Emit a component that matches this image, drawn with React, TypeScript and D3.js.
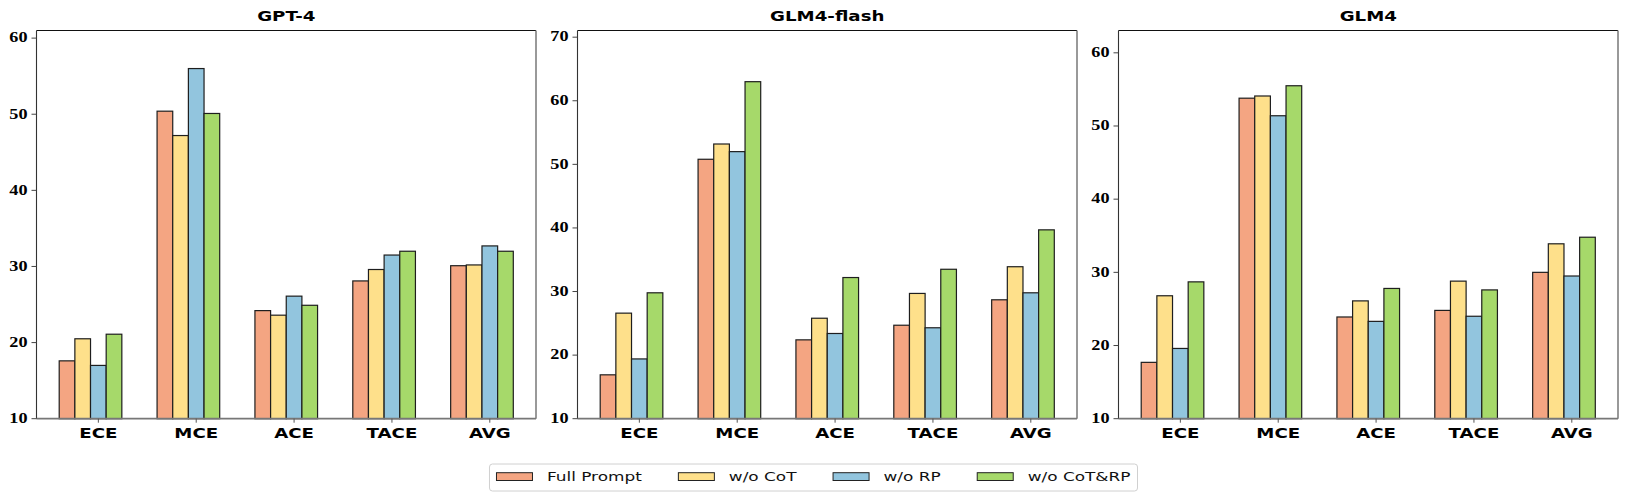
import React from 'react';
import * as d3 from 'd3';

// categorías y series
const categories = ['ECE', 'MCE', 'ACE', 'TACE', 'AVG'];
const seriesNames = ['Full Prompt', 'w/o CoT', 'w/o RP', 'w/o CoT&RP'];
const seriesColors = ['#F4A582', '#FEE08B', '#92C5DE', '#A6D96A'];

const panelTitles = ['GPT-4', 'GLM4-flash', 'GLM4'];
const panelYMax = [61.0, 71.05, 63.05];
const panelYTicks = [
  [10, 20, 30, 40, 50, 60],
  [10, 20, 30, 40, 50, 60, 70],
  [10, 20, 30, 40, 50, 60],
];

// GPT-4
const gpt4Full = [17.6, 50.4, 24.2, 28.1, 30.1];
const gpt4NoCoT = [20.5, 47.2, 23.6, 29.6, 30.2];
const gpt4NoRP = [17.0, 56.0, 26.1, 31.5, 32.7];
const gpt4NoBoth = [21.1, 50.1, 24.9, 32.0, 32.0];

// GLM4-flash
const flashFull = [16.9, 50.8, 22.4, 24.7, 28.7];
const flashNoCoT = [26.6, 53.2, 25.8, 29.7, 33.9];
const flashNoRP = [19.4, 52.0, 23.4, 24.3, 29.8];
const flashNoBoth = [29.8, 63.0, 32.2, 33.5, 39.7];

// GLM4
const glm4Full = [17.7, 53.8, 23.9, 24.8, 30.0];
const glm4NoCoT = [26.8, 54.1, 26.1, 28.8, 33.9];
const glm4NoRP = [19.6, 51.4, 23.3, 24.0, 29.5];
const glm4NoBoth = [28.7, 55.5, 27.8, 27.6, 34.8];

const panelData = [
  [gpt4Full, gpt4NoCoT, gpt4NoRP, gpt4NoBoth],
  [flashFull, flashNoCoT, flashNoRP, flashNoBoth],
  [glm4Full, glm4NoCoT, glm4NoRP, glm4NoBoth],
];

const W = 1627;
const H = 498;
const SX = 1.3; // la figura original está estirada en horizontal
const panelLeft0 = 36.5;
const panelW = 499.5;
const panelGap = 41.5;
const top = 30.5;
const bottom = 418.7;
const barW = 0.16;

const sansBold = '"DejaVu Sans", sans-serif';
const serifBold = '"Liberation Serif", "Times New Roman", serif';

const measure = (txt: string, font: string) => {
  const ctx = document.createElement('canvas').getContext('2d');
  if (!ctx) return txt.length * 7;
  ctx.font = font;
  return ctx.measureText(txt).width;
};

const SText: React.FC<any> = ({ x, y, children, ...rest }) => (
  <text transform={`translate(${x},${y}) scale(${SX},1)`} {...rest}>{children}</text>
);

const Panel: React.FC<{ idx: number }> = ({ idx }) => {
  const left = panelLeft0 + idx * (panelW + panelGap);
  const right = left + panelW;
  const x = d3.scaleLinear().domain([-0.632, 4.472]).range([left, right]);
  const y = d3.scaleLinear().domain([10, panelYMax[idx]]).range([bottom, top]);
  const bw = x(barW) - x(0);
  const series = panelData[idx];

  return (
    <g>
      <SText x={(left + right) / 2} y={20.5} textAnchor="middle" fontFamily={sansBold}
        fontWeight="bold" fontSize={14} fill="#000">{panelTitles[idx]}</SText>

      {series.map((vals, s) => (
        <g key={s}>
          {vals.map((v, c) => (
            <rect key={c}
              x={x(c + (s - 2.5) * barW)}
              y={y(v)}
              width={bw}
              height={y(10) - y(v)}
              fill={seriesColors[s]}
              stroke="#1e1e1e"
              strokeWidth={1.2}
            />
          ))}
        </g>
      ))}

      {/* ejes */}
      <line x1={left} x2={right} y1={top} y2={top} stroke="#111" strokeWidth={1} />
      <line x1={left} x2={left} y1={top} y2={bottom} stroke="#333" strokeWidth={1.1} />
      <line x1={right} x2={right} y1={top} y2={bottom} stroke="#777" strokeWidth={1.5} />
      <line x1={left} x2={right} y1={bottom} y2={bottom} stroke="#777" strokeWidth={1.8} />

      {panelYTicks[idx].map(t => (
        <g key={t}>
          <line x1={left - 5} x2={left} y1={y(t)} y2={y(t)} stroke="#444" strokeWidth={1} />
          <SText x={left - 9} y={y(t)} textAnchor="end" dominantBaseline="central"
            fontFamily={serifBold} fontWeight="bold" fontSize={14} fill="#000">{t}</SText>
        </g>
      ))}

      {categories.map((cat, c) => (
        <g key={cat}>
          <line x1={x(c)} x2={x(c)} y1={bottom} y2={bottom + 4} stroke="#555" strokeWidth={1} />
          <SText x={x(c)} y={437.5} textAnchor="middle" fontFamily={sansBold}
            fontWeight="bold" fontSize={14} fill="#000">{cat}</SText>
        </g>
      ))}
    </g>
  );
};

const Legend: React.FC = () => {
  const fontPx = 13;
  const handle = 36;
  const handleGap = 14.5;
  const colSpacing = 36.5;
  const pad = 7;
  const widths = seriesNames.map(n => measure(n, `${fontPx}px "DejaVu Sans"`) * SX);
  const total = pad * 2 + widths.reduce((a, b) => a + b, 0)
    + seriesNames.length * (handle + handleGap) + (seriesNames.length - 1) * colSpacing;
  const x0 = W / 2 - total / 2;
  const y0 = 464;
  const h = 27;
  let cursor = x0 + pad;
  const items = seriesNames.map((n, i) => {
    const px = cursor;
    cursor += handle + handleGap + widths[i] + colSpacing;
    return { n, px, color: seriesColors[i] };
  });
  return (
    <g>
      <rect x={x0} y={y0} width={total} height={h} rx={3} fill="#fff" stroke="#d0d0d0" strokeWidth={1} />
      {items.map(it => (
        <g key={it.n}>
          <rect x={it.px} y={472.7} width={handle} height={7.8} fill={it.color} stroke="#222" strokeWidth={1} />
          <SText x={it.px + handle + handleGap} y={476.6} dominantBaseline="central"
            fontFamily={sansBold} fontSize={fontPx} fill="#111">{it.n}</SText>
        </g>
      ))}
    </g>
  );
};

export default function App() {
  return (
    <svg width={W} height={H} style={{ position: 'absolute', left: 0, top: 0, background: '#fff' }}>
      <rect width={W} height={H} fill="#fff" />
      {panelTitles.map((_, i) => <Panel key={i} idx={i} />)}
      <Legend />
    </svg>
  );
}
